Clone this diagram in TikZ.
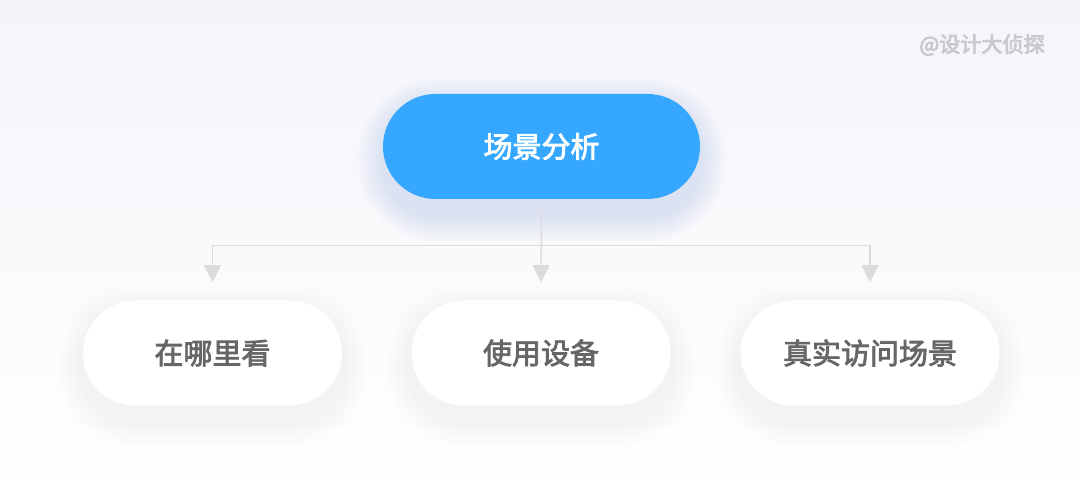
\documentclass[tikz,border=0pt]{standalone}
\usepackage{fontspec}
\setmainfont{Noto Sans CJK SC}
\usepackage{tikz}
\usetikzlibrary{arrows.meta}

\definecolor{sceneblue}{RGB}{54,167,255}
\definecolor{linegray}{RGB}{220,220,222}
\definecolor{textgray}{RGB}{102,102,102}
\definecolor{markgray}{RGB}{200,200,206}
\definecolor{bgtop}{RGB}{244,245,250}
\definecolor{blueshade}{RGB}{150,170,215}
\definecolor{grayshade}{RGB}{175,175,188}

% slightly heavier strokes for the labels
\newcommand{\medium}[1]{\special{pdf:code 2 Tr 0.45 w}#1\special{pdf:code 0 Tr}}

\tikzset{
  pill/.style={rectangle,rounded corners=1.05cm,minimum height=2.1cm,inner sep=0pt,
    font=\fontsize{16.5}{20}\selectfont},
  topic/.style={pill,fill=sceneblue,text=white,minimum width=6.34cm},
  leaf/.style={pill,fill=white,text=textgray,minimum width=5.18cm},
  link/.style={draw=linegray,line width=0.9pt,-{Triangle[length=0.34cm,width=0.34cm]},
    shorten <=0.24cm,shorten >=0.36cm}
}

\begin{document}
\begin{tikzpicture}
	\shade[top color=bgtop,bottom color=white] (0,0) rectangle (21.6,10);
	\useasboundingbox (0,0) rectangle (21.6,10);

	% soft shadows under the pills
	\foreach \cx/\cy/\w/\col/\op in {10.83/7.07/6.34/blueshade/0.028, 4.25/2.94/5.18/grayshade/0.009, 10.82/2.94/5.18/grayshade/0.009, 17.4/2.94/5.18/grayshade/0.009}
		\foreach \k in {1,...,10}
			\fill[\col,opacity=\op,rounded corners={1.05cm+\k*0.05cm}]
				({\cx-\w/2-\k*0.05},{\cy-1.05-0.35-\k*0.05}) rectangle ({\cx+\w/2+\k*0.05},{\cy+1.05-0.2+\k*0.05});

	\node[text=markgray,font=\fontsize{12}{14}\selectfont] (mark) at (19.64,9.1) {\medium{@设计大侦探}};

	\node[topic] (scene) at (10.83,7.07) {\medium{场景分析}};
	\node[leaf] (where) at (4.25,2.94) {\medium{在哪里看}};
	\node[leaf] (device) at (10.82,2.94) {\medium{使用设备}};
	\node[leaf] (visit) at (17.4,2.94) {\medium{真实访问场景}};

	\path[link] (scene.south) -- ++(0,-0.92) -| (where.north);
	\path[link] (scene.south) -- (device.north);
	\path[link] (scene.south) -- ++(0,-0.92) -| (visit.north);
\end{tikzpicture}
\end{document}
